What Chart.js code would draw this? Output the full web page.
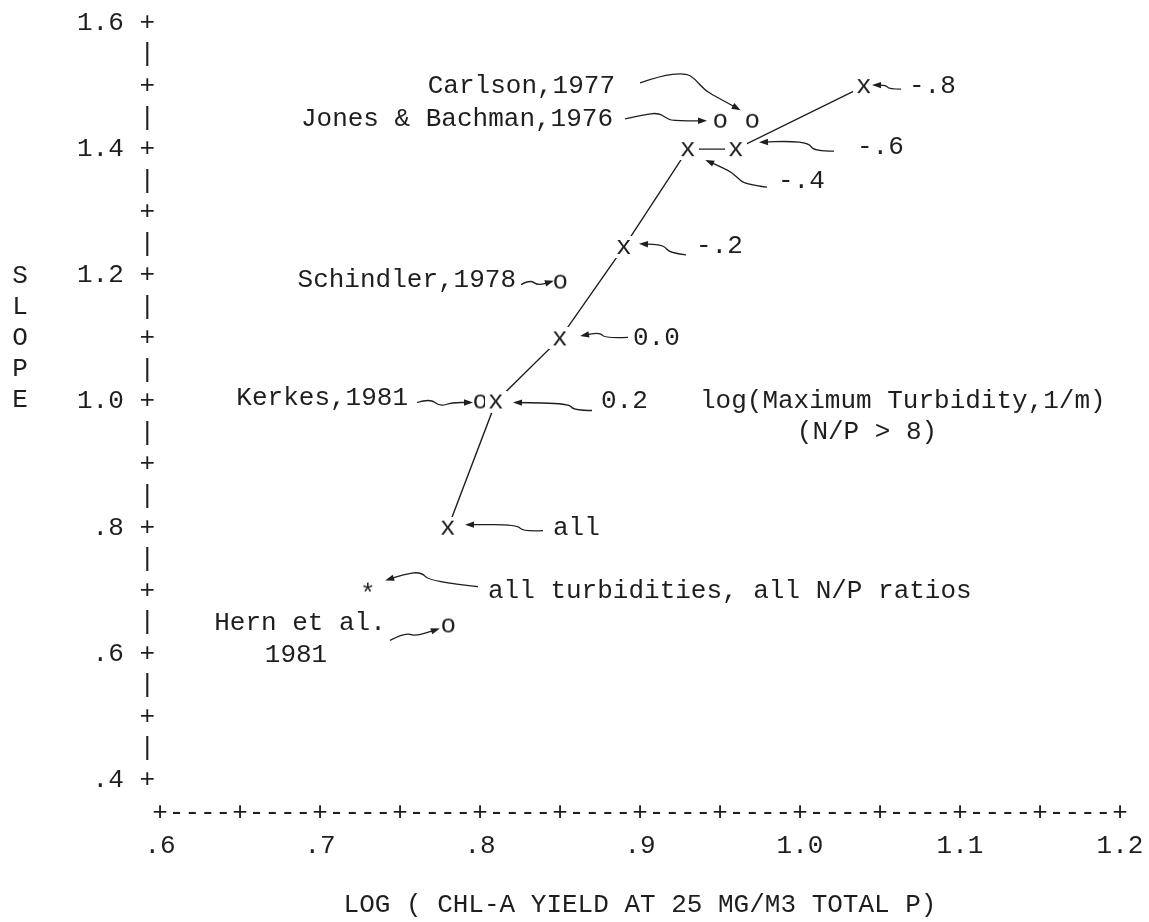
<!DOCTYPE html>
<html><head><meta charset="utf-8">
<script src="https://cdn.jsdelivr.net/npm/chart.js@4/dist/chart.umd.min.js"></script>
<style>html,body{margin:0;padding:0;background:#fff;}canvas{display:block;}</style>
</head><body>
<canvas id="c" width="1149" height="922"></canvas>
<script>
// ---------- data ----------
const xTickValues = [0.6, 0.7, 0.8, 0.9, 1.0, 1.1, 1.2];
const xTickLabels = ['.6', '.7', '.8', '.9', '1.0', '1.1', '1.2'];
const yTickValues = [0.4, 0.6, 0.8, 1.0, 1.2, 1.4, 1.6];
const yTickLabels = ['.4', '.6', '.8', '1.0', '1.2', '1.4', '1.6'];

const turbidityLabels = ['all', '0.2', '0.0', '-.2', '-.4', '-.6', '-.8'];
const turbidityYield  = [0.78, 0.81, 0.85, 0.89, 0.93, 0.96, 1.04];
const turbiditySlope  = [0.80, 1.00, 1.10, 1.245, 1.40, 1.40, 1.50];

const studyLabels = ['Carlson,1977', 'Jones & Bachman,1976', 'Schindler,1978', 'Kerkes,1981', 'Hern et al.|1981'];
const studyYield  = [0.97, 0.95, 0.85, 0.80, 0.78];
const studySlope  = [1.445, 1.445, 1.19, 1.00, 0.645];

const overallLabels = ['all turbidities, all N/P ratios'];
const overallYield  = [0.73];
const overallSlope  = [0.705];

const xTitle = 'LOG ( CHL-A YIELD AT 25 MG/M3 TOTAL P)';
const yTitle = 'SLOPE';
const seriesNote = ['log(Maximum Turbidity,1/m)', '(N/P > 8)'];

// ---------- styles / placement ----------
const FAMILY = '"Liberation Mono", "Courier New", monospace';
const FSIZE = 26;
const FONT = FSIZE + 'px ' + FAMILY;
const INK = '#1e1e1e';

// label placement in pixel offsets from the annotated point; arrow paths likewise
const place = {
  'all': {lines: [[105, 0, 'left']], path: [[95,3],[75,4],[69,-3],[20,-3]]},
  '0.2': {lines: [[105, 0, 'left']], path: [[96,9],[78,9],[73,2],[20,1]]},
  '0.0': {lines: [[73, 0, 'left']], path: [[68,-1],[45,0],[40,-6],[23,-3]]},
  '-.2': {lines: [[72, -1, 'left']], path: [[62,8],[45,6],[40,-2],[18,-3]]},
  '-.4': {lines: [[90, 32, 'left']], path: [[79,38],[57,35],[49,28],[42,22],[20,12]]},
  '-.6': {lines: [[121, -2, 'left']], path: [[98,2],[78,2],[73,-6],[53,-8],[26,-7]]},
  '-.8': {lines: [[45, 0, 'left']], path: [[37,3],[25,3],[22,-1],[11,-1]]},
  'Carlson,1977': {lines: [[-137, -35, 'right']], path: [[-112,-38],[-92,-45],[-67,-48],[-57,-42],[-47,-30],[-32,-22],[-14,-12]]},
  'Jones & Bachman,1976': {lines: [[-107, -2, 'right']], path: [[-95,-2],[-77,-6],[-62,-8],[-54,-3],[-48,0],[-16,0]]},
  'Schindler,1978': {lines: [[-44, -2, 'right']], path: [[-39,3],[-30,-2],[-22,4],[-9,0]]},
  'Kerkes,1981': {lines: [[-72, -3, 'right']], path: [[-63,1],[-50,-3],[-40,5],[-28,1],[-10,1]]},
  'Hern et al.|1981': {lines: [[-148, -2, 'center'], [-152, 30, 'center']], path: [[-58,15],[-43,7],[-33,11],[-11,4]]},
  'all turbidities, all N/P ratios': {lines: [[120, 4, 'left']], path: [[110,-1],[62,-6],[53,-16],[35,-13],[20,-8]]}
};
const notePlace = [[0.9375, 1.0], [0.998, 0.952]];
const yTitleCenter = 1.1;

function glyph(ch, w, h, bg) {
  const c = document.createElement('canvas');
  c.width = w; c.height = h;
  const g = c.getContext('2d');
  if (bg) { g.fillStyle = '#fff'; g.fillRect(0, 0, w, h); }
  g.font = FONT; g.fillStyle = INK; g.textAlign = 'left'; g.textBaseline = 'alphabetic';
  const m = g.measureText(ch);
  const gw = m.actualBoundingBoxLeft + m.actualBoundingBoxRight;
  const gh = m.actualBoundingBoxAscent + m.actualBoundingBoxDescent;
  g.fillText(ch, (w - gw) / 2 + m.actualBoundingBoxLeft, (h - gh) / 2 + m.actualBoundingBoxAscent);
  return c;
}
const xMark = glyph('x', 22, 22, true);
const oMark = glyph('o', 18, 18, false);
const starMark = glyph('*', 18, 18, false);

function drawArrow(ctx, pts) {
  ctx.beginPath();
  ctx.moveTo(pts[0][0], pts[0][1]);
  for (let i = 1; i < pts.length - 1; i++) {
    const mx = (pts[i][0] + pts[i + 1][0]) / 2, my = (pts[i][1] + pts[i + 1][1]) / 2;
    ctx.quadraticCurveTo(pts[i][0], pts[i][1], mx, my);
  }
  const a = pts[pts.length - 2], b = pts[pts.length - 1];
  ctx.lineTo(b[0], b[1]);
  ctx.stroke();
  const ang = Math.atan2(b[1] - a[1], b[0] - a[0]);
  ctx.beginPath();
  ctx.moveTo(b[0] + Math.cos(ang) * 3, b[1] + Math.sin(ang) * 3);
  ctx.lineTo(b[0] - Math.cos(ang) * 6 - Math.sin(ang) * 3.2, b[1] - Math.sin(ang) * 6 + Math.cos(ang) * 3.2);
  ctx.lineTo(b[0] - Math.cos(ang) * 6 + Math.sin(ang) * 3.2, b[1] - Math.sin(ang) * 6 - Math.cos(ang) * 3.2);
  ctx.closePath();
  ctx.fill();
}

const typewriter = {
  id: 'typewriter',
  afterDraw(chart) {
    const {ctx, chartArea} = chart;
    const xs = chart.scales.x, ys = chart.scales.y;
    ctx.save();
    ctx.font = FONT; ctx.fillStyle = INK; ctx.strokeStyle = INK; ctx.textBaseline = 'middle';
    // x-axis row  +----+----+
    const rowY = chartArea.bottom + 33;
    ctx.textAlign = 'center';
    for (let i = 0; i <= 12; i++) {
      const v = xs.min + i * 0.05;
      const px = xs.getPixelForValue(v);
      ctx.fillText('+', px, rowY);
      if (i < 12) {
        const nx = xs.getPixelForValue(v + 0.05);
        ctx.fillText('----', (px + nx) / 2, rowY);
      }
    }
    // y title, stacked letters
    const cy = ys.getPixelForValue(yTitleCenter);
    const letters = yTitle.split('');
    letters.forEach((ch, i) => ctx.fillText(ch, 20, cy + (i - (letters.length - 1) / 2) * 31));
    // annotations
    ctx.lineWidth = 1.3;
    const annotate = (labels, xv, yv) => {
      labels.forEach((lab, i) => {
        const p = place[lab];
        const px = xs.getPixelForValue(xv[i]), py = ys.getPixelForValue(yv[i]);
        const parts = lab.split('|');
        p.lines.forEach((ln, k) => {
          ctx.textAlign = ln[2];
          ctx.fillText(parts[k], px + ln[0], py + ln[1]);
        });
        drawArrow(ctx, p.path.map(q => [px + q[0], py + q[1]]));
      });
    };
    annotate(turbidityLabels, turbidityYield, turbiditySlope);
    annotate(studyLabels, studyYield, studySlope);
    annotate(overallLabels, overallYield, overallSlope);
    ctx.textAlign = 'left';
    seriesNote.forEach((t, i) => ctx.fillText(t, xs.getPixelForValue(notePlace[i][0]), ys.getPixelForValue(notePlace[i][1])));
    ctx.restore();
  }
};

const yAll = [];
for (let i = 0; i <= 24; i++) yAll.push(Math.round((0.4 + i * 0.05) * 1000) / 1000);

new Chart(document.getElementById('c'), {
  type: 'scatter',
  data: {
    datasets: [
      {label: 'Maximum turbidity', data: turbidityYield.map((x, i) => ({x, y: turbiditySlope[i]})),
       showLine: true, borderColor: INK, borderWidth: 1.4, pointStyle: xMark, pointRadius: 10, tension: 0},
      {label: 'Studies', data: studyYield.map((x, i) => ({x, y: studySlope[i]})),
       showLine: false, pointStyle: oMark, pointRadius: 9},
      {label: 'All', data: overallYield.map((x, i) => ({x, y: overallSlope[i]})),
       showLine: false, pointStyle: starMark, pointRadius: 9}
    ]
  },
  options: {
    responsive: false, animation: false, events: [],
    plugins: {legend: {display: false}, tooltip: {enabled: false}},
    layout: {padding: {top: 23, right: 29, left: 0, bottom: 0}},
    scales: {
      x: {
        type: 'linear', min: 0.6, max: 1.2,
        afterBuildTicks(s) { s.ticks = xTickValues.map(v => ({value: v})); },
        afterFit(s) { s.height = 142; s.paddingLeft = 0; s.paddingRight = 0; },
        grid: {display: false, drawTicks: false}, border: {display: false},
        ticks: {
          autoSkip: false, maxRotation: 0, padding: 51, color: INK,
          font: {family: FAMILY, size: FSIZE},
          callback(v) { const i = xTickValues.findIndex(t => Math.abs(t - v) < 1e-6); return i >= 0 ? xTickLabels[i] : ''; }
        },
        title: {display: true, text: xTitle, color: INK, font: {family: FAMILY, size: FSIZE}, padding: {top: 0, bottom: 1}}
      },
      y: {
        type: 'linear', min: 0.4, max: 1.6,
        afterBuildTicks(s) { s.ticks = yAll.map(v => ({value: v})); },
        afterFit(s) { s.width = 160; s.paddingTop = 0; s.paddingBottom = 0; },
        grid: {display: false, drawTicks: false}, border: {display: false},
        ticks: {
          autoSkip: false, padding: 5, color: INK,
          font: {family: FAMILY, size: FSIZE},
          callback(v) {
            const i = yTickValues.findIndex(t => Math.abs(t - v) < 1e-6);
            if (i >= 0) return yTickLabels[i] + ' +';
            const k = Math.round(v * 100);
            return (k % 10 === 0) ? '+' : '|';
          }
        }
      }
    }
  },
  plugins: [typewriter]
});
</script>
</body></html>
